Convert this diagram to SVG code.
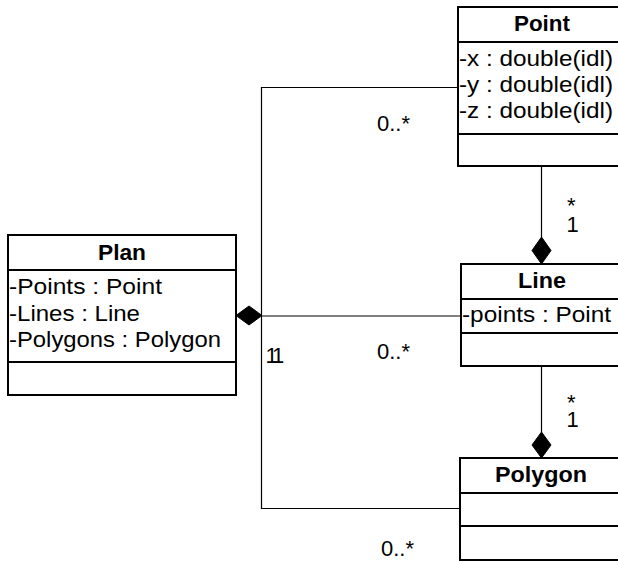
<svg xmlns="http://www.w3.org/2000/svg" width="618" height="561" viewBox="0 0 618 561">
<style>
.box{fill:#fff;stroke:#000;stroke-width:2}
.sep{stroke:#000;stroke-width:2}
.title{font-family:"Liberation Sans",Arial,sans-serif;font-size:22px;font-weight:bold;fill:#000}
.attr{font-family:"Liberation Sans",Arial,sans-serif;font-size:21.5px;fill:#000}
.mult{font-family:"Liberation Sans",Arial,sans-serif;font-size:22px;fill:#000}
.conn{fill:none;stroke:#000;stroke-width:1.2}
.dia{fill:#000;stroke:#000;stroke-width:1}
</style>
<rect width="618" height="561" fill="#fff"/>
<g id="connectors">
<polyline class="conn" points="458,87.5 261.5,87.5 261.5,508.5 460,508.5"/>
<line class="conn" x1="262" y1="316" x2="461" y2="316"/>
<line class="conn" x1="541.5" y1="166" x2="541.5" y2="237"/>
<line class="conn" x1="541.5" y1="366" x2="541.5" y2="432"/>
<polygon class="dia" points="236,315.5 249,306 262,315.5 249,325"/>
<polygon class="dia" points="541.5,237 551,250.5 541.5,264 532,250.5"/>
<polygon class="dia" points="541.5,432 551,445 541.5,458 532,445"/>
<text class="mult" x="377" y="131">0..*</text>
<text class="mult" x="377" y="359">0..*</text>
<text class="mult" x="381" y="556">0..*</text>
<text class="mult" x="567" y="213">*</text>
<text class="mult" x="566.5" y="232">1</text>
<text class="mult" x="567" y="410">*</text>
<text class="mult" x="566.5" y="427">1</text>
<text class="mult" x="265.5" y="363" letter-spacing="-4">11</text>
</g>
<g id="Point">
<rect class="box" x="458" y="7" width="170" height="159"/>
<line class="sep" x1="458" y1="42" x2="628" y2="42"/>
<line class="sep" x1="458" y1="134" x2="628" y2="134"/>
<text class="title" x="514" y="31" textLength="56" lengthAdjust="spacingAndGlyphs">Point</text>
<text class="attr" x="459" y="66" textLength="154" lengthAdjust="spacingAndGlyphs">-x : double(idl)</text>
<text class="attr" x="459" y="92" textLength="154" lengthAdjust="spacingAndGlyphs">-y : double(idl)</text>
<text class="attr" x="459" y="117.5" textLength="154" lengthAdjust="spacingAndGlyphs">-z : double(idl)</text>
</g>
<g id="Plan">
<rect class="box" x="8" y="235" width="228" height="160"/>
<line class="sep" x1="8" y1="270" x2="236" y2="270"/>
<line class="sep" x1="8" y1="362" x2="236" y2="362"/>
<text class="title" x="98" y="260" textLength="48" lengthAdjust="spacingAndGlyphs">Plan</text>
<text class="attr" x="9" y="294" textLength="153" lengthAdjust="spacingAndGlyphs">-Points : Point</text>
<text class="attr" x="9" y="321" textLength="131" lengthAdjust="spacingAndGlyphs">-Lines : Line</text>
<text class="attr" x="9" y="347" textLength="212" lengthAdjust="spacingAndGlyphs">-Polygons : Polygon</text>
</g>
<g id="Line">
<rect class="box" x="461" y="264" width="165" height="102"/>
<line class="sep" x1="461" y1="299" x2="626" y2="299"/>
<line class="sep" x1="461" y1="333" x2="626" y2="333"/>
<text class="title" x="518" y="288" textLength="48" lengthAdjust="spacingAndGlyphs">Line</text>
<text class="attr" x="462" y="322" textLength="149" lengthAdjust="spacingAndGlyphs">-points : Point</text>
</g>
<g id="Polygon">
<rect class="box" x="460" y="458" width="166" height="102"/>
<line class="sep" x1="460" y1="493" x2="626" y2="493"/>
<line class="sep" x1="460" y1="526" x2="626" y2="526"/>
<text class="title" x="495" y="482" textLength="92" lengthAdjust="spacingAndGlyphs">Polygon</text>
</g>
</svg>
